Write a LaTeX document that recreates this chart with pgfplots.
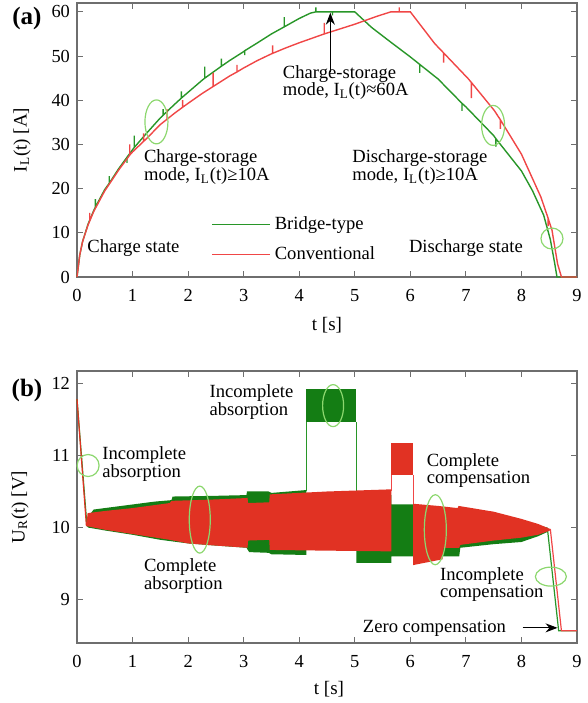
\documentclass[border=0pt]{standalone}
\usepackage{fontspec}
\setmainfont{Liberation Serif}
\usepackage{pgfplots}
\pgfplotsset{compat=1.18}
\usetikzlibrary{arrows.meta}
\definecolor{gline}{RGB}{40,150,40}
\definecolor{rline}{RGB}{240,70,70}
\definecolor{gband}{RGB}{20,125,20}
\definecolor{rband}{RGB}{225,50,35}
\definecolor{ell}{RGB}{140,215,110}
\definecolor{frm}{RGB}{110,110,110}
\newcommand{\ann}{\fontsize{9.3}{8.9}\selectfont}
\pgfplotsset{myax/.style={scale only axis, width=250pt, xmin=0, xmax=9, xtick={0,...,9},
  tick align=inside, axis line style={frm, line width=0.6pt}, major tick length=3pt,
  tick style={frm, line width=0.5pt},
  ticklabel style={font=\fontsize{9.2}{10}\selectfont, black},
  xticklabel style={yshift=-2.5pt},
  /pgf/number format/assume math mode=true,
  label style={font=\fontsize{9.5}{11}\selectfont},
  clip=false}}
\begin{document}
\begin{tikzpicture}
\useasboundingbox (-38.5pt,-30pt) rectangle (255.5pt,321.5pt);
% ---------------- (a) ----------------
\begin{axis}[myax, at={(0,183pt)}, anchor=south west, height=137pt,
  ymin=0, ymax=62, ytick={0,10,...,60},
  xlabel={t [s]}, ylabel={I\textsubscript{L}(t) [A]},
  xlabel style={at={(axis description cs:0.5,-0.175)}, anchor=center},
  ylabel style={at={(axis description cs:-0.11,0.5)}, anchor=center},
  legend style={draw=none, fill=none, at={(rel axis cs:0.268,0.237)}, anchor=north west,
    font=\ann, row sep=3pt, inner sep=0pt},
  legend cell align=left,
  legend image code/.code={\draw[#1] (0pt,0pt) -- (29pt,0pt);}]
\addplot[gline, line width=0.7pt] coordinates {(0,0)(0.05,5)(0.1,8)(0.2,12)(0.3,15)(0.33,15.8)(0.33,17.6)(0.33,15.8)(0.5,19.8)(0.58,21.2)(0.58,22.8)(0.58,21.2)(0.75,24.5)(0.9,27.1)(0.9,25.8)(0.9,27.1)(1,28.8)(1.03,29.3)(1.03,32)(1.03,29.3)(1.25,32.5)(1.5,36)(1.55,36.6)(1.55,38)(1.55,36.6)(1.75,39)(1.88,40.5)(1.88,42)(1.88,40.5)(2,41.8)(2.25,44.5)(2.3,45)(2.3,47.6)(2.3,45)(2.5,46.8)(2.6,47.7)(2.6,49.4)(2.6,47.7)(2.75,49)(3,51)(3.02,51.2)(3.02,50.2)(3.02,51.2)(3.25,53)(3.5,55)(3.73,56.6)(3.73,58.8)(3.73,56.6)(4,58.5)(4.2,59.7)(4.3,60)(4.3,61)(4.3,60)(4.6,60)(4.6,59.2)(4.6,60)(5.0,60)(5.3,56.5)(5.6,53.6)(6.0,49.8)(6.17,48.1)(6.17,46.2)(6.17,48.1)(6.5,44.8)(6.93,39.3)(6.93,37.6)(6.93,39.3)(7.0,38.5)(7.5,32)(7.54,31.3)(7.54,29.5)(7.54,31.3)(8.0,24)(8.2,19.5)(8.4,14)(8.52,8.5)(8.6,3)(8.64,0)(9,0)};
\addlegendentry{Bridge-type}
\addplot[rline, line width=0.7pt] coordinates {(0,0)(0.05,5)(0.1,8)(0.2,11.8)(0.23,12.7)(0.23,14.5)(0.23,12.7)(0.3,14.8)(0.5,19.5)(0.75,24.2)(0.95,27.6)(0.95,30)(0.95,27.6)(1,28.3)(1.2,30.7)(1.2,32.5)(1.2,30.7)(1.25,31.3)(1.5,34.5)(1.62,35.7)(1.62,38)(1.62,35.7)(1.75,37)(1.9,38.4)(1.9,40)(1.9,38.4)(2,39.3)(2.25,41.5)(2.45,43.1)(2.45,46.2)(2.45,43.1)(2.5,43.5)(2.75,45.5)(2.88,46.4)(2.88,48)(2.88,46.4)(3,47.3)(3.25,49)(3.5,50.5)(3.52,50.6)(3.52,52.4)(3.52,50.6)(3.75,51.8)(4,53)(4.45,55)(4.45,57.5)(4.45,55)(4.5,55.2)(5,57.2)(5.4,59)(5.65,60)(5.8,60)(5.8,61)(5.8,60)(6.0,60)(6.44,52.8)(6.6,50.7)(6.6,48.5)(6.6,50.7)(7.04,44.9)(7.1,44)(7.1,40.5)(7.1,44)(7.51,37.7)(7.62,35.6)(7.62,33.5)(7.62,35.6)(8.0,27.8)(8.35,18.1)(8.48,13.3)(8.48,11.5)(8.48,13.3)(8.55,10.6)(8.65,3)(8.72,0)(9,0)};
\addlegendentry{Conventional}
\draw[ell, line width=0.6pt] (axis cs:1.43,35.1) ellipse [x radius=5.75pt, y radius=11pt];
\draw[ell, line width=0.6pt] (axis cs:7.49,34.3) ellipse [x radius=5.75pt, y radius=10pt];
\draw[ell, line width=0.6pt] (axis cs:8.55,8.7) ellipse [x radius=5.5pt, y radius=5.25pt];
\draw[black, line width=0.5pt, -{Stealth[length=6pt,width=4.5pt]}] (axis cs:4.56,46.5) -- (axis cs:4.56,59.8);
\node[anchor=west, align=left, font=\ann, inner sep=0pt] at (axis cs:1.2,24.8) {Charge-storage\\mode, I\textsubscript{L}(t)≥10A};
\node[anchor=west, align=left, font=\ann, inner sep=0pt] at (axis cs:3.7,44) {Charge-storage\\mode, I\textsubscript{L}(t)≈60A};
\node[anchor=west, align=left, font=\ann, inner sep=0pt] at (axis cs:4.95,24.8) {Discharge-storage\\mode, I\textsubscript{L}(t)≥10A};
\node[anchor=west, font=\ann, inner sep=0pt] at (axis cs:0.18,6.5) {Charge state};
\node[anchor=west, font=\ann, inner sep=0pt] at (axis cs:5.97,6.5) {Discharge state};
\node[font=\fontsize{12.5}{13}\selectfont\bfseries] at (axis description cs:-0.1,0.945) {(a)};
\end{axis}
% ---------------- (b) ----------------
\begin{axis}[myax, at={(0,0)}, anchor=south west, height=136pt,
  ymin=8.4, ymax=12.17, ytick={9,10,11,12},
  xlabel={t [s]}, ylabel={U\textsubscript{R}(t) [V]},
  xlabel style={at={(axis description cs:0.504,-0.168)}, anchor=center},
  ylabel style={at={(axis description cs:-0.114,0.5)}, anchor=center}]
% green bands
\addplot[fill=gband, draw=none] coordinates {(0.18,10.02)(0.2,10.15)(0.3,10.25)(0.7,10.29)(1.0,10.32)(1.4,10.36)(1.7,10.38)(1.72,10.43)(2.5,10.44)(3.05,10.45)(3.06,10.5)(3.45,10.5)(3.5,10.48)(4.13,10.52)(4.13,9.62)(3.5,9.63)(3.45,9.65)(3.1,9.66)(3.05,9.72)(2.5,9.75)(2.0,9.78)(1.5,9.83)(1.0,9.9)(0.5,9.96)(0.2,10.0)} -- cycle;
\addplot[fill=gband, draw=none] coordinates {(4.13,11.46)(4.13,11.92)(5.03,11.92)(5.03,11.46)} -- cycle;
\addplot[fill=gband, draw=none] coordinates {(5.03,10.45)(5.66,10.45)(5.66,10.32)(6.05,10.32)(6.9,10.25)(7.5,10.17)(8.0,10.08)(8.47,10.0)(8.47,9.94)(8.3,9.88)(8.0,9.8)(7.5,9.77)(6.9,9.72)(6.88,9.6)(6.6,9.6)(6.05,9.58)(6.05,9.6)(5.66,9.6)(5.66,9.51)(5.03,9.51)} -- cycle;
\addplot[gline, line width=0.6pt] coordinates {(4.13,10.5)(4.13,11.46)};
\addplot[gline, line width=0.6pt] coordinates {(5.03,10.45)(5.03,11.46)};
\addplot[gline, line width=0.6pt] coordinates {(0,11.78)(0.18,10.02)};
\addplot[gline, line width=0.6pt] coordinates {(8.47,9.97)(8.67,8.57)(9,8.57)};
% red bands
\addplot[fill=rband, draw=none] coordinates {(0.17,10.02)(0.19,10.2)(0.5,10.23)(1.0,10.27)(1.67,10.34)(1.7,10.37)(2.5,10.39)(3.07,10.41)(3.08,10.34)(3.46,10.35)(3.47,10.46)(4.5,10.5)(5.66,10.53)(5.66,9.67)(4.5,9.68)(3.47,9.69)(3.46,9.83)(3.08,9.82)(3.07,9.72)(2.5,9.75)(2.0,9.78)(1.67,9.83)(1.0,9.91)(0.5,9.97)} -- cycle;
\addplot[fill=rband, draw=none] coordinates {(5.66,10.73)(5.66,11.17)(6.05,11.17)(6.05,10.73)} -- cycle;
\addplot[fill=rband, draw=none] coordinates {(6.05,10.33)(6.5,10.3)(6.85,10.27)(6.87,10.3)(7.5,10.22)(8.0,10.12)(8.3,10.05)(8.52,9.98)(8.52,9.96)(8.3,9.9)(8.0,9.86)(7.5,9.82)(6.9,9.76)(6.88,9.72)(6.6,9.72)(6.58,9.56)(6.05,9.48)} -- cycle;
\addplot[rline, line width=0.6pt] coordinates {(5.66,10.5)(5.66,10.73)};
\addplot[rline, line width=0.6pt] coordinates {(6.05,10.33)(6.05,10.73)};
\addplot[rband, line width=0.6pt] coordinates {(0,11.78)(0.17,10.02)};
\addplot[rline, line width=0.6pt] coordinates {(8.52,9.98)(8.72,8.57)(9,8.57)};
% annotations
\draw[ell, line width=0.6pt] (axis cs:0.2,10.86) ellipse [x radius=5.5pt, y radius=5.5pt];
\draw[ell, line width=0.6pt] (axis cs:2.21,10.11) ellipse [x radius=5.25pt, y radius=16.75pt];
\draw[ell, line width=0.6pt] (axis cs:4.61,11.69) ellipse [x radius=5.25pt, y radius=10.5pt];
\draw[ell, line width=0.6pt] (axis cs:6.45,9.97) ellipse [x radius=5.5pt, y radius=17.5pt];
\draw[ell, line width=0.6pt] (axis cs:8.53,9.32) ellipse [x radius=7.75pt, y radius=4.75pt];
\node[anchor=west, align=left, font=\ann, inner sep=0pt] at (axis cs:0.45,10.88) {Incomplete\\absorption};
\node[anchor=west, align=left, font=\ann, inner sep=0pt] at (axis cs:2.38,11.74) {Incomplete\\absorption};
\node[anchor=west, align=left, font=\ann, inner sep=0pt] at (axis cs:1.2,9.33) {Complete\\absorption};
\node[anchor=west, align=left, font=\ann, inner sep=0pt] at (axis cs:6.29,10.79) {Complete\\compensation};
\node[anchor=west, align=left, font=\ann, inner sep=0pt] at (axis cs:6.53,9.21) {Incomplete\\compensation};
\node[anchor=west, font=\ann, inner sep=0pt] at (axis cs:5.14,8.61) {Zero compensation};
\draw[black, line width=0.5pt, -{Stealth[length=6pt,width=4.5pt]}] (axis cs:8.02,8.61) -- (axis cs:8.65,8.61);
\node[font=\fontsize{12.5}{13}\selectfont\bfseries] at (axis description cs:-0.1,0.93) {(b)};
\end{axis}
\end{tikzpicture}
\end{document}
